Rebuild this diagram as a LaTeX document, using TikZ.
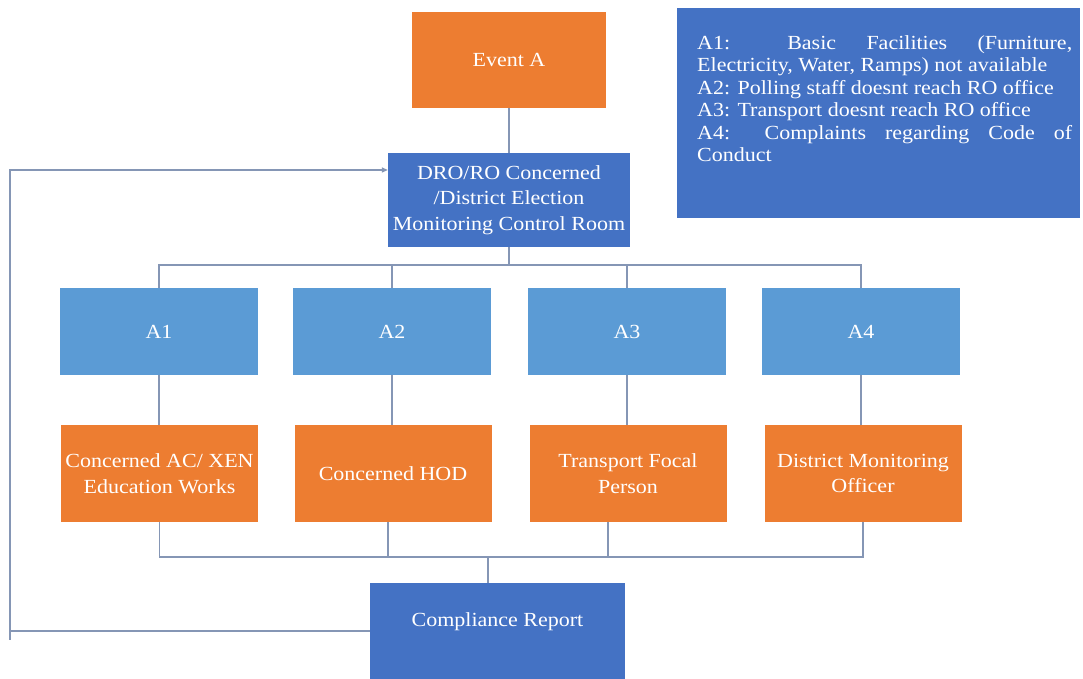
\documentclass[tikz,border=0pt]{standalone}
\usepackage{fontspec}
\setmainfont{Liberation Serif}[FakeStretch=1.1]
\usetikzlibrary{arrows.meta,calc}
\definecolor{orng}{HTML}{ED7D31}
\definecolor{dblue}{HTML}{4472C4}
\definecolor{lblue}{HTML}{5B9BD5}
\definecolor{conncol}{HTML}{8596B5}
\begin{document}
\begin{tikzpicture}[x=1pt,y=-1pt,
  box/.style={rectangle, text=white, inner sep=1pt, align=center, font=\fontsize{20}{25.5}\selectfont},
  obox/.style={box, fill=orng},
  dbox/.style={box, fill=dblue},
  lbox/.style={box, fill=lblue},
  link/.style={draw=conncol, line width=1.3pt}]
\path[fill=white] (0,0) rectangle (1083,679);
\useasboundingbox (0,0) rectangle (1083,679);

\node[obox, minimum width=194pt, minimum height=96pt] (ev) at (509,60) {Event A};
\node[dbox, minimum width=242pt, minimum height=94pt] (dro) at (509,200) {DRO/RO Concerned\\/District Election\\Monitoring Control Room};

\node[lbox, minimum width=198pt, minimum height=87pt] (a1) at (159,331.5) {A1};
\node[lbox, minimum width=198pt, minimum height=87pt] (a2) at (392,331.5) {A2};
\node[lbox, minimum width=198pt, minimum height=87pt] (a3) at (627,331.5) {A3};
\node[lbox, minimum width=198pt, minimum height=87pt] (a4) at (861,331.5) {A4};

\node[obox, minimum width=197pt, minimum height=97pt] (o1) at (159.5,473.5) {Concerned AC/ XEN\\Education Works};
\node[obox, minimum width=197pt, minimum height=97pt] (o2) at (393,473.5) {Concerned HOD};
\node[obox, minimum width=197pt, minimum height=97pt] (o3) at (628,473.5) {Transport Focal\\Person};
\node[obox, minimum width=197pt, minimum height=97pt] (o4) at (863,473.5) {District Monitoring\\Officer};

\node[dbox, minimum width=255pt, minimum height=96pt, text height=14pt, text depth=24pt] (cr) at (497.5,631) {Compliance Report};

\node[dbox, minimum width=403pt, minimum height=210pt, anchor=north west, inner sep=0pt] (leg) at (677,8)
 {\hspace*{20pt}\parbox[t][190pt][t]{375pt}{\vspace*{17pt}\fontsize{20}{22.5}\selectfont
 \tolerance=10000 \hbadness=10000 \hyphenpenalty=10000 \exhyphenpenalty=10000
 A1: Basic Facilities (Furniture,\linebreak Electricity, Water, Ramps) not available\\
 A2: Polling staff doesnt reach RO office\\
 A3: Transport doesnt reach RO office\\
 A4: Complaints regarding Code of\linebreak Conduct}\hspace*{8pt}};

% connectors
\coordinate (busT) at (509,265);
\coordinate (busB) at (488,557);
\draw[link] (ev) -- (dro);
\draw[link] (dro) -- (busT);
\draw[link] (a1.north) |- (busT) -| (a4.north);
\draw[link] (a2.north) -- (a2.north |- busT);
\draw[link] (a3.north) -- (a3.north |- busT);

\draw[link] (a1.south) -- (a1.south |- o1.north);
\draw[link] (a2.south) -- (a2.south |- o2.north);
\draw[link] (a3.south) -- (a3.south |- o3.north);
\draw[link] (a4.south) -- (a4.south |- o4.north);

\draw[link] (o1.south) |- (busB) -| (o4.south);
\draw[link] ($(o2.south)+(-5,0)$) |- (busB);
\draw[link] ($(o3.south)+(-20,0)$) |- (busB);
\draw[link] (busB) -- (busB |- cr.north);

\coordinate (fbL) at (10,631);
\coordinate (fbT) at (10,170);
\draw[link] (fbL) -- ++(0,9);
\draw[link, -{Triangle[length=6pt,width=5pt]}] (cr.west) -- (fbL) -- (fbT) -- (fbT -| dro.west);
\end{tikzpicture}
\end{document}
